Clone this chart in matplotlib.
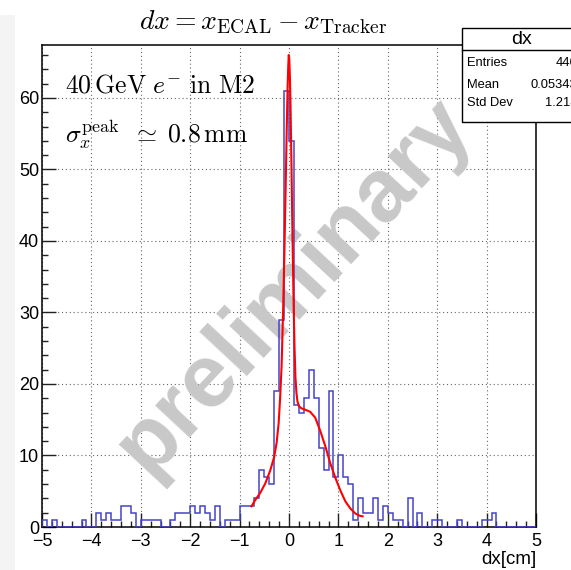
import numpy as np
import matplotlib
matplotlib.use('Agg')
import matplotlib.pyplot as plt
from matplotlib.patches import Rectangle
from matplotlib.lines import Line2D
from matplotlib.ticker import MultipleLocator

plt.rcParams['font.family'] = ['Liberation Sans', 'DejaVu Sans']
plt.rcParams['mathtext.fontset'] = 'cm'

# histogram dx, 100 bins from -5 to 5
xmin, xmax, nbins = -5.0, 5.0, 100
counts = [1, 0, 1, 0, 0, 0, 0, 0, 1, 0,
          0, 2, 1, 2, 1, 1, 3, 3, 2, 0,
          1, 1, 1, 1, 0, 0, 1, 2, 2, 2,
          3, 2, 3, 2, 1, 3, 0, 1, 1, 1,
          3, 3, 3, 4, 8, 7, 6, 19, 29, 61,
          54, 17, 16, 18, 22, 18, 11, 8, 19, 7,
          10, 7, 6, 1, 4, 2, 2, 4, 1, 3,
          2, 1, 1, 0, 4, 0, 2, 0, 0, 1,
          1, 0, 0, 0, 1, 0, 0, 0, 0, 1,
          1, 2, 0, 0, 0, 0, 0, 0, 0, 0]

# fit curve
fit_x = [-0.76, -0.68, -0.58, -0.48, -0.38, -0.30, -0.25, -0.21, -0.18, -0.15,
         -0.12, -0.09, -0.065, -0.045, -0.028, -0.015, -0.005, 0.005, 0.018,
         0.032, 0.05, 0.07, 0.09, 0.11, 0.13, 0.15, 0.17, 0.20, 0.25, 0.33,
         0.43, 0.53, 0.63, 0.735, 0.836, 0.937, 1.04, 1.14, 1.24, 1.34, 1.44, 1.49]
fit_y = [2.9, 3.8, 4.8, 6.1, 7.9, 9.8, 11.8, 14.5, 18.0, 22.5,
         30.0, 39.5, 48.5, 56.0, 61.5, 64.5, 66.0, 65.5, 63.0,
         58.5, 50.5, 41.0, 32.5, 25.5, 21.0, 18.8, 17.6, 16.9, 16.6, 16.4,
         16.1, 15.3, 13.5, 11.3, 8.9, 6.9, 5.1, 3.6, 2.6, 1.9, 1.55, 1.5]

stat_names = ['Entries', 'Mean', 'Std Dev']
stat_values = ['446', '0.05343', '1.218']

W, H = 571, 570
fig = plt.figure(figsize=(W / 100, H / 100), dpi=100)
fig.patches.append(Rectangle((0, 0), 15 / W, 1 - 15 / H, transform=fig.transFigure,
                             facecolor='#f4f4f4', edgecolor='none', zorder=0))

ax = fig.add_axes([42 / W, 1 - 527 / H, (536 - 42) / W, (527 - 45) / H])
edges = np.linspace(xmin, xmax, nbins + 1)
ax.stairs(counts, edges, color='#4444c8', lw=1.1, zorder=3)
ax.plot(fit_x, fit_y, color='#ff0000', lw=1.5, zorder=4)

ax.set_xlim(xmin, xmax)
ax.set_ylim(0, 67.4)
ax.xaxis.set_major_locator(MultipleLocator(1))
ax.xaxis.set_minor_locator(MultipleLocator(0.2))
ax.yaxis.set_major_locator(MultipleLocator(10))
ax.yaxis.set_minor_locator(MultipleLocator(2))
ax.tick_params(which='both', direction='in', top=False, right=False, labelsize=13, color='#222222')
ax.tick_params(which='major', length=10, width=1.0)
ax.tick_params(which='minor', length=4.3, width=1.0)
ax.tick_params(axis='x', pad=4)
ax.tick_params(axis='y', pad=2)
ax.grid(True, which='major', color='#666666', lw=0.8, ls=(0, (1, 2.5)), zorder=1)
ax.set_axisbelow(True)
for s in ax.spines.values():
    s.set_linewidth(1.1)

ax.text(0.51, 0.50, 'preliminary', transform=ax.transAxes, rotation=47,
        ha='center', va='center', fontsize=64, fontweight='bold', color='#c8c8c8', zorder=2)

ax.text(65 / W, 1 - 92 / H, r'$40\,\mathrm{GeV}\ e^{-}\ \mathrm{in\ M2}$', transform=fig.transFigure,
        fontsize=18.5, ha='left', va='baseline', zorder=5)
ax.text(65 / W, 1 - 142 / H, r'$\sigma_x^{\mathrm{peak}}\;\;\simeq\;0.8\,\mathrm{mm}$',
        transform=fig.transFigure, fontsize=18.5, ha='left', va='baseline', zorder=5)

fig.text(263 / W, 1 - 22 / H, r'$dx = x_{\mathrm{ECAL}} - x_{\mathrm{Tracker}}$',
         fontsize=20, ha='center', va='center')
fig.text(536 / W, 1 - 560 / H, 'dx[cm]', fontsize=13.5, ha='right', va='center')

# stats box
bx0, by0, bx1, by1 = 462, 28, 600, 122
fig.patches.append(Rectangle((bx0 / W, 1 - by1 / H), (bx1 - bx0) / W, (by1 - by0) / H,
                             transform=fig.transFigure, facecolor='white', edgecolor='black',
                             lw=1.0, zorder=10))
fig.lines.append(Line2D([bx0 / W, bx1 / W], [1 - 49.5 / H, 1 - 49.5 / H],
                        transform=fig.transFigure, color='black', lw=1.0, zorder=11))
fig.text(522 / W, 1 - 40 / H, 'dx', fontsize=14, ha='center', va='center', zorder=12)
for k, (name, val) in enumerate(zip(stat_names, stat_values)):
    yy = 1 - [63, 85, 103][k] / H
    fig.text(467 / W, yy, name, fontsize=9.3, ha='left', va='center', zorder=12)
    fig.text(577 / W, yy, val, fontsize=9.3, ha='right', va='center', zorder=12)

fig.savefig('out.png', dpi=100)
